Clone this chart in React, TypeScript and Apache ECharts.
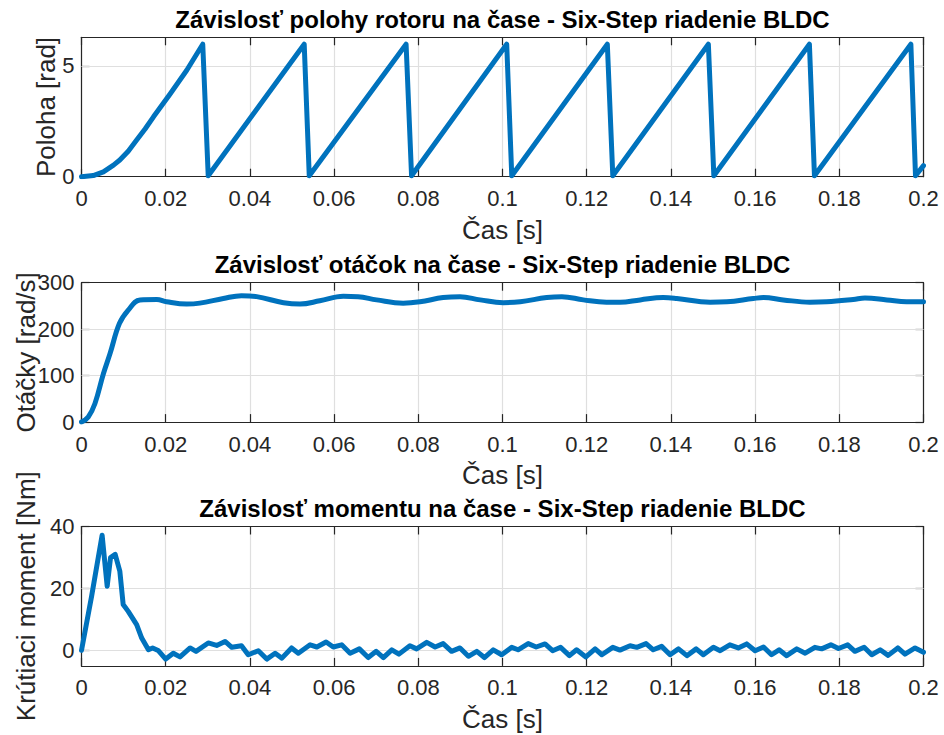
import React, { useEffect, useRef } from "react";
import * as echarts from "echarts";

// ---- Data ----
// Rotor position [rad] vs time [s] (sawtooth: peaks & resets)
const positionPoints: [number, number][] = [
  [0, 0], [0.0028, 0.05], [0.0052, 0.22], [0.0076, 0.52], [0.0091, 0.75],
  [0.0111, 1.15], [0.0131, 1.65], [0.0151, 2.15], [0.0171, 2.7], [0.021, 3.72],
  [0.025, 4.8], [0.0288, 5.97],
  [0.0301, 0.04], [0.0529, 5.97], [0.0541, 0.04], [0.0771, 5.97], [0.0784, 0.04],
  [0.101, 5.97], [0.1022, 0.04], [0.1249, 5.97], [0.1262, 0.04], [0.1489, 5.97],
  [0.1502, 0.04], [0.1729, 5.97], [0.1741, 0.04], [0.197, 5.97], [0.1981, 0.04],
  [0.2, 0.5],
];

// Speed [rad/s] vs time [s]
const speedPoints: [number, number][] = [
  [0, 0], [0.0016, 11], [0.0032, 40], [0.0052, 104], [0.0068, 148], [0.009, 212],
  [0.0111, 241], [0.0139, 263], [0.0179, 264], [0.0202, 259], [0.025, 254],
  [0.0281, 256], [0.0337, 266], [0.038, 272], [0.0416, 270], [0.048, 257],
  [0.0519, 254], [0.0566, 261], [0.0622, 271], [0.0657, 270], [0.0701, 263],
  [0.0764, 256], [0.0804, 259], [0.0859, 268], [0.0899, 270], [0.0947, 263],
  [0.1002, 257], [0.1042, 259], [0.1105, 268], [0.1141, 270], [0.1192, 263],
  [0.1247, 258], [0.1279, 258], [0.1327, 263], [0.1382, 268], [0.1414, 266],
  [0.1493, 258], [0.1533, 259], [0.1596, 266], [0.162, 268], [0.1667, 263],
  [0.173, 258], [0.177, 259], [0.1833, 264], [0.1861, 267], [0.1913, 263],
  [0.196, 259], [0.2, 259],
];

// Torque [Nm] vs time [s]
const torquePoints: [number, number][] = [
  [0, 0], [0.0024, 17.5], [0.0049, 37.2], [0.0061, 20.7], [0.0069, 30], [0.008, 31],
  [0.0091, 25.6], [0.0099, 14.8], [0.0111, 12.6], [0.0131, 8.3], [0.0143, 4],
  [0.0159, 0.2], [0.0169, 0.8], [0.0182, 0], [0.02, -2.8], [0.0218, -0.9],
  [0.0234, -2.1], [0.0258, 0.8], [0.0272, -0.3], [0.0301, 2.4], [0.0321, 1.6],
  [0.0341, 2.9], [0.0357, 1], [0.038, 1.5], [0.0396, -1.4], [0.042, -0.1],
  [0.044, -2.8], [0.046, -0.9], [0.0476, -2.5], [0.0499, 0.8], [0.0515, -0.9],
  [0.0543, 1.8], [0.0559, 1.1], [0.0581, 2.7], [0.0598, 1.1], [0.0618, 1.8],
  [0.0638, -0.9], [0.066, 0.5], [0.0681, -2.3], [0.07, -0.3], [0.0717, -2.3],
  [0.0737, 0.2], [0.0754, -1.2], [0.078, 1.5], [0.0796, 0.5], [0.082, 2.6],
  [0.084, 1.1], [0.0859, 2.2], [0.0879, -0.3], [0.0899, 0.8], [0.0919, -1.9],
  [0.0939, -0.3], [0.0957, -2.3], [0.0978, 0.2], [0.0998, -1.4], [0.1022, 1],
  [0.1037, 0.2], [0.1061, 2.2], [0.108, 1.1], [0.1101, 2.1], [0.1119, -0.1],
  [0.1138, 1], [0.1159, -1.7], [0.1176, 0.2], [0.1198, -2.1], [0.122, 0.5],
  [0.1236, -1.4], [0.1262, 1], [0.1279, 0.1], [0.1303, 1.5], [0.1319, 1],
  [0.1341, 2.2], [0.1358, 0.2], [0.1378, 1.3], [0.1398, -1.4], [0.1418, 0.5],
  [0.1438, -1.7], [0.146, 0.5], [0.1477, -1.4], [0.1501, 1], [0.1517, -0.1],
  [0.154, 1.8], [0.156, 0.8], [0.158, 2.1], [0.16, -0.1], [0.162, 1.1],
  [0.1639, -1.4], [0.1657, 0.2], [0.1675, -1.7], [0.1699, 0.5], [0.1719, -0.9],
  [0.1742, 1], [0.1758, 0.5], [0.178, 1.8], [0.1798, 0.6], [0.182, 1.8],
  [0.1837, -0.3], [0.1859, 1], [0.1877, -1.4], [0.1897, 0.2], [0.1916, -1.6],
  [0.1939, 0.8], [0.1956, -1.2], [0.198, 0.8], [0.2, -0.6],
];

const titles = [
  "Závislosť polohy rotoru na čase - Six-Step riadenie BLDC",
  "Závislosť otáčok na čase - Six-Step riadenie BLDC",
  "Závislosť momentu na čase - Six-Step riadenie BLDC",
];
const yNames = ["Poloha [rad]", "Otáčky [rad/s]", "Krútiaci moment [Nm]"];
const xName = "Čas [s]";

const xMin = 0;
const xMax = 0.2;
const xInterval = 0.02;
const yMins = [0, 0, -5];
const yMaxs = [2 * Math.PI, 300, 40];
const yTickValues = [
  [0, 5],
  [0, 100, 200, 300],
  [0, 20, 40],
];

// ---- Layout ----
const FONT = "'Liberation Sans', Arial, Helvetica, sans-serif";
const AX = "#262626";
const GRIDC = "#dfdfdf";
const LINEC = "#0072BD";
const gridLeft = 81.5;
const gridWidth = 842;
const gridTops = [37.3, 282.7, 526.5];
const gridHeight = 139.4;
const yNameX = [46, 26, 26];

export default function App() {
  const ref = useRef<HTMLDivElement>(null);
  useEffect(() => {
    if (!ref.current) return;
    const chart = echarts.init(ref.current, undefined, { renderer: "svg" });

    const grids: any[] = [];
    const xAxes: any[] = [];
    const yAxes: any[] = [];
    const series: any[] = [];
    const graphics: any[] = [];
    const datasets = [positionPoints, speedPoints, torquePoints];

    gridTops.forEach((top, i) => {
      grids.push({ left: gridLeft, top, width: gridWidth, height: gridHeight, containLabel: false });
      const lineStyle = { color: AX, width: 1.2 };
      const tickBase = { show: true, inside: true, length: 8, lineStyle: { color: AX, width: 1.2 } };
      xAxes.push({
        type: "value", gridIndex: i, position: "bottom", min: xMin, max: xMax, interval: xInterval,
        axisLine: { show: true, onZero: false, lineStyle },
        axisTick: tickBase,
        axisLabel: {
          show: true, color: AX, fontSize: 22, fontFamily: FONT, margin: 11,
          formatter: (v: number) => parseFloat(v.toFixed(4)).toString(),
        },
        splitLine: { show: true, lineStyle: { color: GRIDC, width: 1.2 } },
      });
      xAxes.push({
        type: "value", gridIndex: i, position: "top", min: xMin, max: xMax, interval: xInterval,
        axisLine: { show: true, onZero: false, lineStyle },
        axisTick: tickBase,
        axisLabel: { show: false },
        splitLine: { show: false },
      });
      const ticks = yTickValues[i];
      yAxes.push({
        type: "value", gridIndex: i, position: "left", min: yMins[i], max: yMaxs[i],
        axisLine: { show: true, onZero: false, lineStyle },
        axisTick: { ...tickBase, customValues: ticks },
        axisLabel: {
          show: true, color: AX, fontSize: 22, fontFamily: FONT, margin: 7,
          customValues: ticks,
        },
        splitLine: { show: false },
      });
      yAxes.push({
        type: "value", gridIndex: i, position: "right", min: yMins[i], max: yMaxs[i],
        axisLine: { show: true, onZero: false, lineStyle },
        axisTick: { ...tickBase, customValues: ticks },
        axisLabel: { show: false },
        splitLine: { show: false },
      });
      // horizontal grid lines at the tick values, through the y scale
      series.push({
        type: "line", xAxisIndex: i * 2, yAxisIndex: i * 2, data: [], silent: true, z: 1,
        markLine: {
          silent: true, symbol: "none", animation: false, z: 1,
          label: { show: false },
          lineStyle: { color: GRIDC, width: 1.2, type: "solid" },
          emphasis: { disabled: true },
          data: ticks.filter((v) => v > yMins[i] && v < yMaxs[i]).map((v) => ({ yAxis: v })),
        },
      });
      series.push({
        type: "line", xAxisIndex: i * 2, yAxisIndex: i * 2, data: datasets[i],
        showSymbol: false, symbol: "none", smooth: i === 1 ? 0.4 : false, clip: true,
        lineStyle: { color: LINEC, width: 5, join: "round", cap: "round" },
        z: 3,
      });
      graphics.push({
        type: "text", x: gridLeft + gridWidth / 2, y: top - 18,
        style: {
          text: titles[i], fill: "#000", font: `bold 24px ${FONT}`,
          textAlign: "center", textVerticalAlign: "middle",
        },
      });
      graphics.push({
        type: "text", x: gridLeft + gridWidth / 2, y: top + gridHeight + 53,
        style: {
          text: xName, fill: AX, font: `26px ${FONT}`,
          textAlign: "center", textVerticalAlign: "middle",
        },
      });
      graphics.push({
        type: "text", x: yNameX[i], y: top + gridHeight / 2, rotation: Math.PI / 2,
        style: {
          text: yNames[i], fill: AX, font: `26px ${FONT}`,
          textAlign: "center", textVerticalAlign: "middle",
        },
      });
    });

    chart.setOption({
      animation: false,
      backgroundColor: "#ffffff",
      grid: grids,
      xAxis: xAxes,
      yAxis: yAxes,
      series,
      graphic: graphics,
    });
    return () => chart.dispose();
  }, []);
  return (
    <div
      ref={ref}
      style={{ position: "absolute", left: 0, top: 0, width: 944, height: 735, background: "#fff" }}
    />
  );
}
